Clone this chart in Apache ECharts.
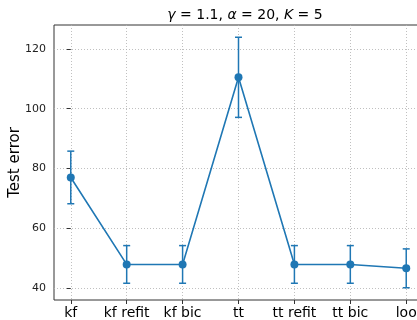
<!DOCTYPE html>
<html>
<head>
<meta charset="utf-8">
<script src="https://cdn.jsdelivr.net/npm/echarts@6/dist/echarts.min.js"></script>
<style>html,body{margin:0;padding:0;background:#fff;}#c{width:417px;height:320px;}</style>
</head>
<body>
<div id="c"></div>
<script>
const categories = ['kf', 'kf refit', 'kf bic', 'tt', 'tt refit', 'tt bic', 'loo'];
const means = [77.0, 47.9, 47.9, 110.5, 47.9, 47.9, 46.6];
const errors = [8.8, 6.3, 6.3, 13.4, 6.3, 6.3, 6.5];
const yTicks = [40, 60, 80, 100, 120];

const idx = categories.map((_, i) => i);
const lineData = means.map((m, i) => [i, m]);
const errData = means.map((m, i) => [i, m - errors[i], m + errors[i]]);
const color = '#1f77b4';
const font = 'DejaVu Sans';

const chart = echarts.init(document.getElementById('c'), null, {renderer: 'canvas'});
chart.setOption({
  animation: false,
  backgroundColor: '#fff',
  title: {
    text: '{i|γ} = 1.1, {i|α} = 20, {i|K} = 5',
    left: 240, top: 3, textAlign: 'center',
    textStyle: {
      fontFamily: font, fontSize: 14, fontWeight: 'normal', color: '#000',
      rich: { i: { fontFamily: font, fontSize: 14, fontStyle: 'italic', color: '#000' } }
    }
  },
  grid: {
    left: 54, right: -6, top: 25, bottom: 20,
    outerBoundsMode: 'none', containLabel: false,
    show: true, borderColor: '#333', borderWidth: 1, backgroundColor: 'transparent'
  },
  xAxis: {
    type: 'value', min: -0.3, max: 6.3, minInterval: 1, maxInterval: 1,
    axisLine: { show: false },
    axisTick: { show: true, length: 4, customValues: idx, lineStyle: { color: '#333', width: 1 } },
    axisLabel: {
      customValues: idx, margin: 6, hideOverlap: false,
      formatter: v => (Number.isInteger(v) ? categories[v] : ''),
      fontFamily: font, fontSize: 14, color: '#000'
    },
    splitLine: { show: true, lineStyle: { color: '#b0b0b0', type: [1, 2], width: 0.8 } }
  },
  yAxis: {
    type: 'value', min: 36, max: 128, minInterval: 20, maxInterval: 20,
    name: 'Test error', nameLocation: 'middle', nameGap: 31, nameMoveOverlap: false,
    nameTextStyle: { fontFamily: font, fontSize: 15, color: '#000' },
    axisLine: { show: false },
    axisTick: { show: true, length: 4, customValues: yTicks, lineStyle: { color: '#333', width: 1 } },
    axisLabel: {
      customValues: yTicks, margin: 8,
      formatter: v => (v % 20 === 0 ? String(v) : ''),
      fontFamily: font, fontSize: 11, color: '#222'
    },
    splitLine: { show: true, lineStyle: { color: '#b0b0b0', type: [1, 2], width: 0.8 } }
  },
  series: [
    {
      type: 'line', data: lineData, symbol: 'circle', symbolSize: 8,
      lineStyle: { color: color, width: 1.6 }, itemStyle: { color: color },
      z: 3
    },
    {
      type: 'custom', data: errData, z: 2,
      renderItem: function (params, api) {
        const x = api.value(0);
        const lo = api.coord([x, api.value(1)]);
        const hi = api.coord([x, api.value(2)]);
        const cap = 3.5;
        const st = { stroke: color, lineWidth: 1.5 };
        return {
          type: 'group',
          children: [
            { type: 'line', shape: { x1: lo[0], y1: lo[1], x2: hi[0], y2: hi[1] }, style: st },
            { type: 'line', shape: { x1: lo[0] - cap, y1: lo[1], x2: lo[0] + cap, y2: lo[1] }, style: st },
            { type: 'line', shape: { x1: hi[0] - cap, y1: hi[1], x2: hi[0] + cap, y2: hi[1] }, style: st }
          ]
        };
      }
    }
  ]
});
</script>
</body>
</html>
